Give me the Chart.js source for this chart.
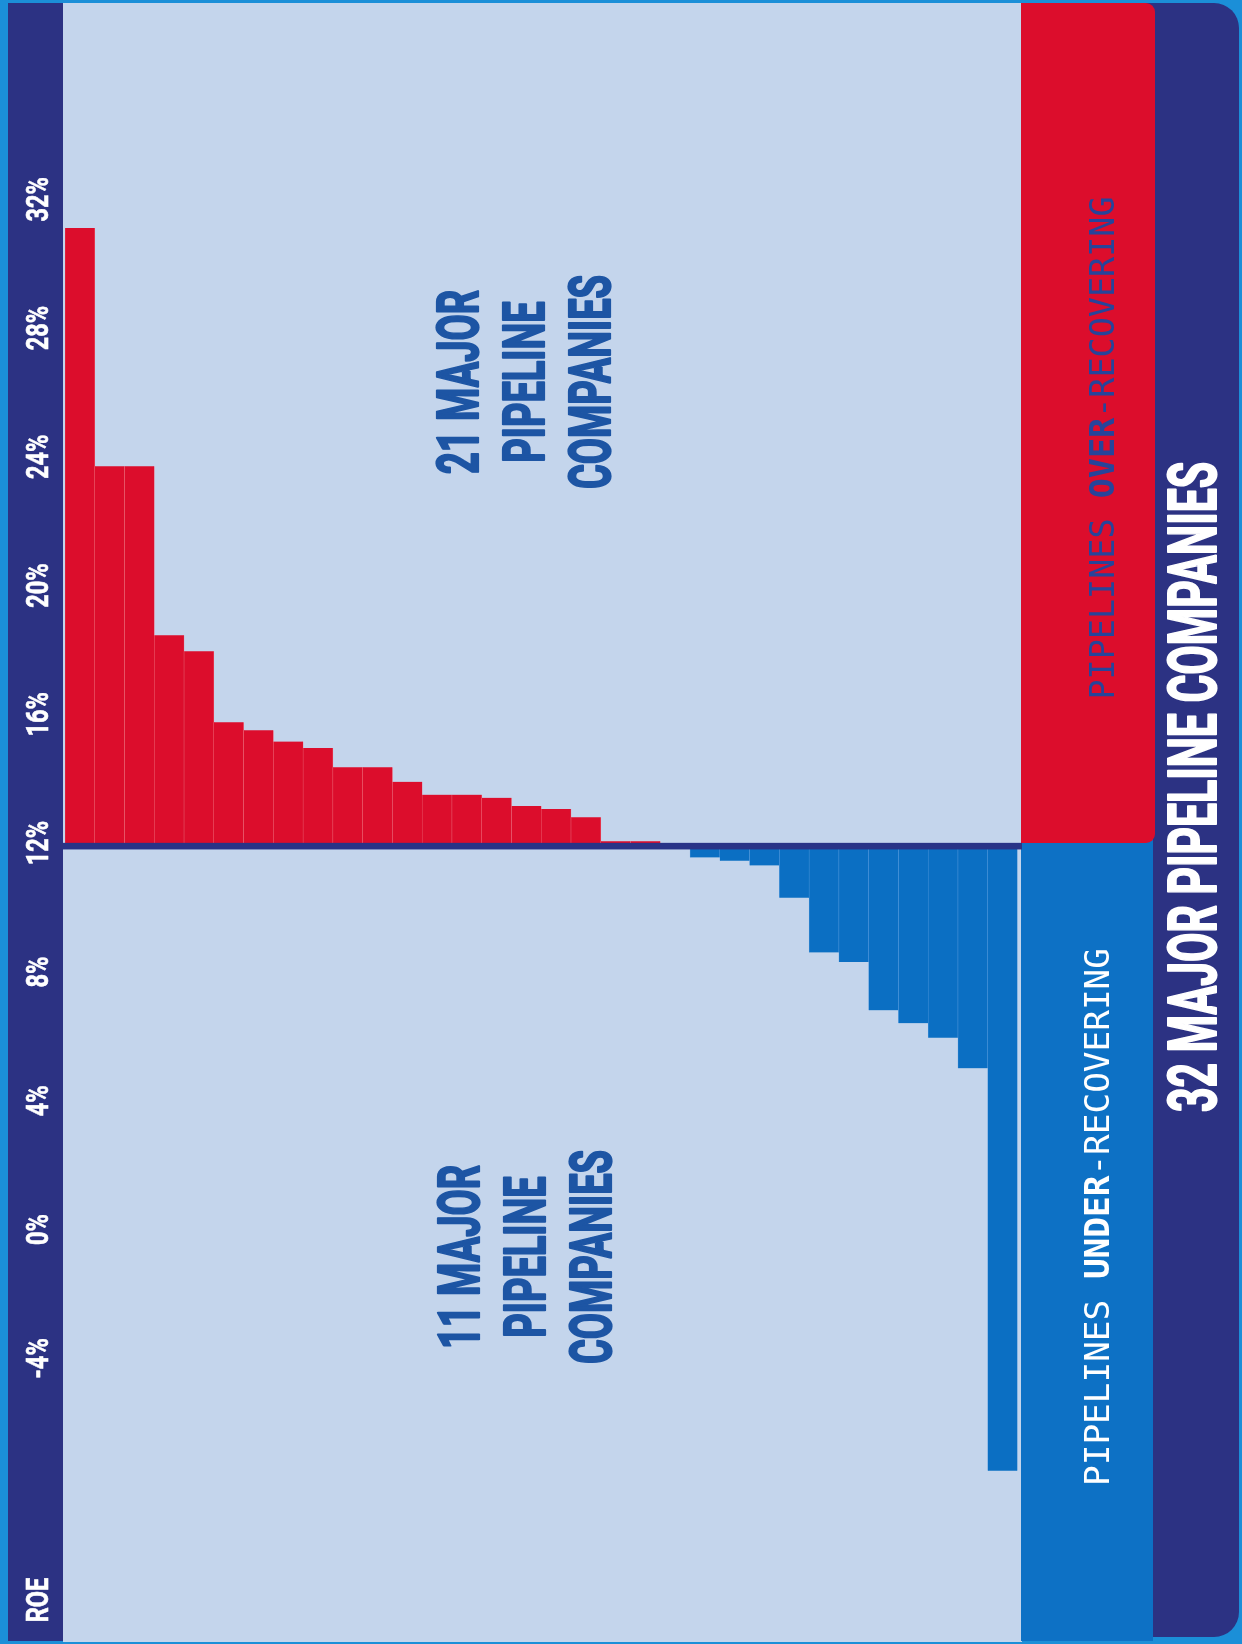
<!DOCTYPE html>
<html lang="en">
<head>
<meta charset="utf-8">
<title>ROE - 32 major pipeline companies</title>
<script src="https://cdn.jsdelivr.net/npm/chart.js@4.4.1/dist/chart.umd.min.js"></script>
<style>
    html, body { margin: 0; padding: 0; background: #1b8fd8; overflow: hidden; }
    #wrap { position: relative; width: 1242px; height: 1644px; }
</style>
</head>
<body>
<div id="wrap"><canvas id="roe-chart"></canvas></div>
<script>
/* --- Data (ROE in %) --- */
const overRecovering = [31.2, 23.8, 23.8, 18.55, 18.05, 15.85, 15.6, 15.25, 15.05, 14.45, 14.45,
                        14.0, 13.6, 13.6, 13.5, 13.25, 13.15, 12.9, 12.15, 12.15, 12.05];
const underRecovering = [11.65, 11.55, 11.4, 10.4, 8.7, 8.4, 6.9, 6.5, 6.05, 5.1, -7.4];
const allowedRoe = 12;
const roeTicks = [-4, 0, 4, 8, 12, 16, 20, 24, 28, 32];
const companies = overRecovering.concat(underRecovering).map((_, i) => 'Company ' + (i + 1));

/* --- Colours --- */
const RED = '#dc0d2c';
const RED_LINE = '#ef6f7c';
const BLUE = '#0b6fc3';
const BLUE_LINE = '#5c9fe0';
const NAVY = '#2c3283';
const LIGHT = '#c4d5ec';
const BRIGHT = '#1b8fd8';
const TEXT_BLUE = '#1d55a4';

document.addEventListener('DOMContentLoaded', () => {

    const canvas = document.getElementById('roe-chart');
    canvas.width = 1242;
    canvas.height = 1644;

    // rectangle with some rounded corners (tl, tr, br, bl)
    function roundedRect(ctx, x, y, w, h, r) {
        const [tl, tr, br, bl] = r;
        ctx.beginPath();
        ctx.moveTo(x + tl, y);
        ctx.lineTo(x + w - tr, y);
        ctx.arcTo(x + w, y, x + w, y + tr, tr);
        ctx.lineTo(x + w, y + h - br);
        ctx.arcTo(x + w, y + h, x + w - br, y + h, br);
        ctx.lineTo(x + bl, y + h);
        ctx.arcTo(x, y + h, x, y + h - bl, bl);
        ctx.lineTo(x, y + tl);
        ctx.arcTo(x, y, x + tl, y, tl);
        ctx.closePath();
    }

    // text turned 90 degrees counter-clockwise, centred on (cx, cy)
    function drawUp(ctx, parts, cx, cy, opts) {
        const capRatio = opts.capRatio || 0.711;
        ctx.save();
        ctx.translate(cx, cy);
        ctx.rotate(-Math.PI / 2);
        let total = 0;
        parts.forEach(p => {
            ctx.font = `${p.weight || 'normal'} ${opts.size}px ${opts.family}`;
            p.width = ctx.measureText(p.text).width;
            total += p.width;
        });
        const sx = opts.length ? opts.length / total : (opts.squeeze || 1);
        ctx.scale(sx, 1);
        ctx.textAlign = 'left';
        ctx.textBaseline = 'alphabetic';
        ctx.lineJoin = 'round';
        let x = -total / 2;
        parts.forEach(p => {
            ctx.font = `${p.weight || 'normal'} ${opts.size}px ${opts.family}`;
            ctx.fillStyle = p.color;
            ctx.fillText(p.text, x, opts.size * capRatio / 2);
            if (opts.heavy) {
                // thicken the strokes a little, the original face is heavier
                ctx.strokeStyle = p.color;
                ctx.lineWidth = opts.heavy;
                ctx.strokeText(p.text, x, opts.size * capRatio / 2);
            }
            x += p.width;
        });
        ctx.restore();
    }

    function squeezeFor(ctx, text, size, family, length) {
        ctx.save();
        ctx.font = `bold ${size}px ${family}`;
        const w = ctx.measureText(text).width;
        ctx.restore();
        return length / w;
    }

    /* --- Panels behind the bars and all the turned texts --- */
    const backdrop = {
        id: 'backdrop',
        beforeDraw(chart) {
            const ctx = chart.ctx;
            ctx.save();
            ctx.fillStyle = BRIGHT;
            ctx.fillRect(0, 0, 1242, 1644);
            // left ROE strip
            ctx.fillStyle = NAVY;
            ctx.fillRect(8, 3, 56, 1638);
            // plot background
            ctx.fillStyle = LIGHT;
            ctx.fillRect(63, 3, 959, 1639);
            // right hand panels
            ctx.fillStyle = NAVY;
            roundedRect(ctx, 1130, 3, 109, 1634, [0, 25, 25, 0]);
            ctx.fill();
            ctx.fillStyle = '#0d71c5';
            ctx.fillRect(1021, 800, 132, 841);
            ctx.fillStyle = RED;
            roundedRect(ctx, 1021, 3, 134, 840, [0, 9, 9, 0]);
            ctx.fill();
            ctx.restore();
        },
        afterDatasetsDraw(chart) {
            // the 12% line between over and under recovering
            const ctx = chart.ctx;
            const y = chart.scales.y.getPixelForValue(allowedRoe);
            ctx.save();
            ctx.fillStyle = '#293387';
            ctx.fillRect(63, y - 3.3, 959, 6.6);
            ctx.restore();
        },
        afterDraw(chart) {
            const ctx = chart.ctx;
            const yScale = chart.scales.y;

            // ROE tick labels on the left strip
            const tickOpts = { size: 31, family: 'Roboto', squeeze: 0.76, heavy: 0.6 };
            roeTicks.forEach(v => {
                drawUp(ctx, [{ text: v + '%', weight: 'bold', color: '#ffffff' }],
                    37, yScale.getPixelForValue(v) - 3, tickOpts);
            });
            drawUp(ctx, [{ text: 'ROE', weight: 'bold', color: '#ffffff' }], 37, 1600, tickOpts);

            // group captions
            const big = squeezeFor(ctx, 'COMPANIES', 58, 'Roboto', 214);
            const bigOpts = { size: 58, family: 'Roboto', squeeze: big, heavy: 2.2 };
            [['21 MAJOR', 457], ['PIPELINE', 523], ['COMPANIES', 589]].forEach(([t, x]) => {
                drawUp(ctx, [{ text: t, weight: 'bold', color: TEXT_BLUE }], x, 382, bigOpts);
            });
            [['11 MAJOR', 458], ['PIPELINE', 524], ['COMPANIES', 590]].forEach(([t, x]) => {
                drawUp(ctx, [{ text: t, weight: 'bold', color: TEXT_BLUE }], x, 1257, bigOpts);
            });

            // side labels
            const monoOpts = { size: 34, family: '"DejaVu Sans Mono", monospace', capRatio: 0.729 };
            drawUp(ctx, [
                { text: 'PIPELINES ', color: '#27449a' },
                { text: 'OVER', weight: 'bold', color: '#27449a' },
                { text: '-RECOVERING', color: '#27449a' }
            ], 1102, 448, Object.assign({ length: 503 }, monoOpts));
            drawUp(ctx, [
                { text: 'PIPELINES ', color: '#ffffff' },
                { text: 'UNDER', weight: 'bold', color: '#ffffff' },
                { text: '-RECOVERING', color: '#ffffff' }
            ], 1097, 1217, Object.assign({ length: 538 }, monoOpts));

            drawUp(ctx, [{ text: '32 MAJOR PIPELINE COMPANIES', weight: 'bold', color: '#ffffff' }],
                1193, 787, { size: 66, family: 'Roboto', length: 650, heavy: 2 });
        }
    };

    /* --- Bars float from the 12% line --- */
    const values = overRecovering.concat(underRecovering);
    const fills = values.map((_, i) => i < overRecovering.length ? RED : BLUE);
    const edges = values.map((_, i) => i < overRecovering.length ? RED_LINE : BLUE_LINE);

    new Chart(canvas.getContext('2d'), {
        type: 'bar',
        data: {
            labels: companies,
            datasets: [{
                label: 'ROE',
                data: values.map(v => [allowedRoe, v]),
                backgroundColor: fills,
                borderColor: edges,
                borderWidth: { left: 0.5, right: 0.5, top: 0, bottom: 0 },
                borderSkipped: false,
                barPercentage: 1,
                categoryPercentage: 1
            }]
        },
        options: {
            responsive: false,
            animation: false,
            layout: { padding: { left: 65, right: 224.5, top: 9, bottom: 9 } },
            plugins: { legend: { display: false }, tooltip: { enabled: false } },
            scales: {
                x: { display: false },
                y: {
                    display: false,
                    min: -12.5,
                    max: 38,
                    afterBuildTicks: s => { s.ticks = roeTicks.map(v => ({ value: v })); }
                }
            }
        },
        plugins: [backdrop]
    });
});
</script>
</body>
</html>
